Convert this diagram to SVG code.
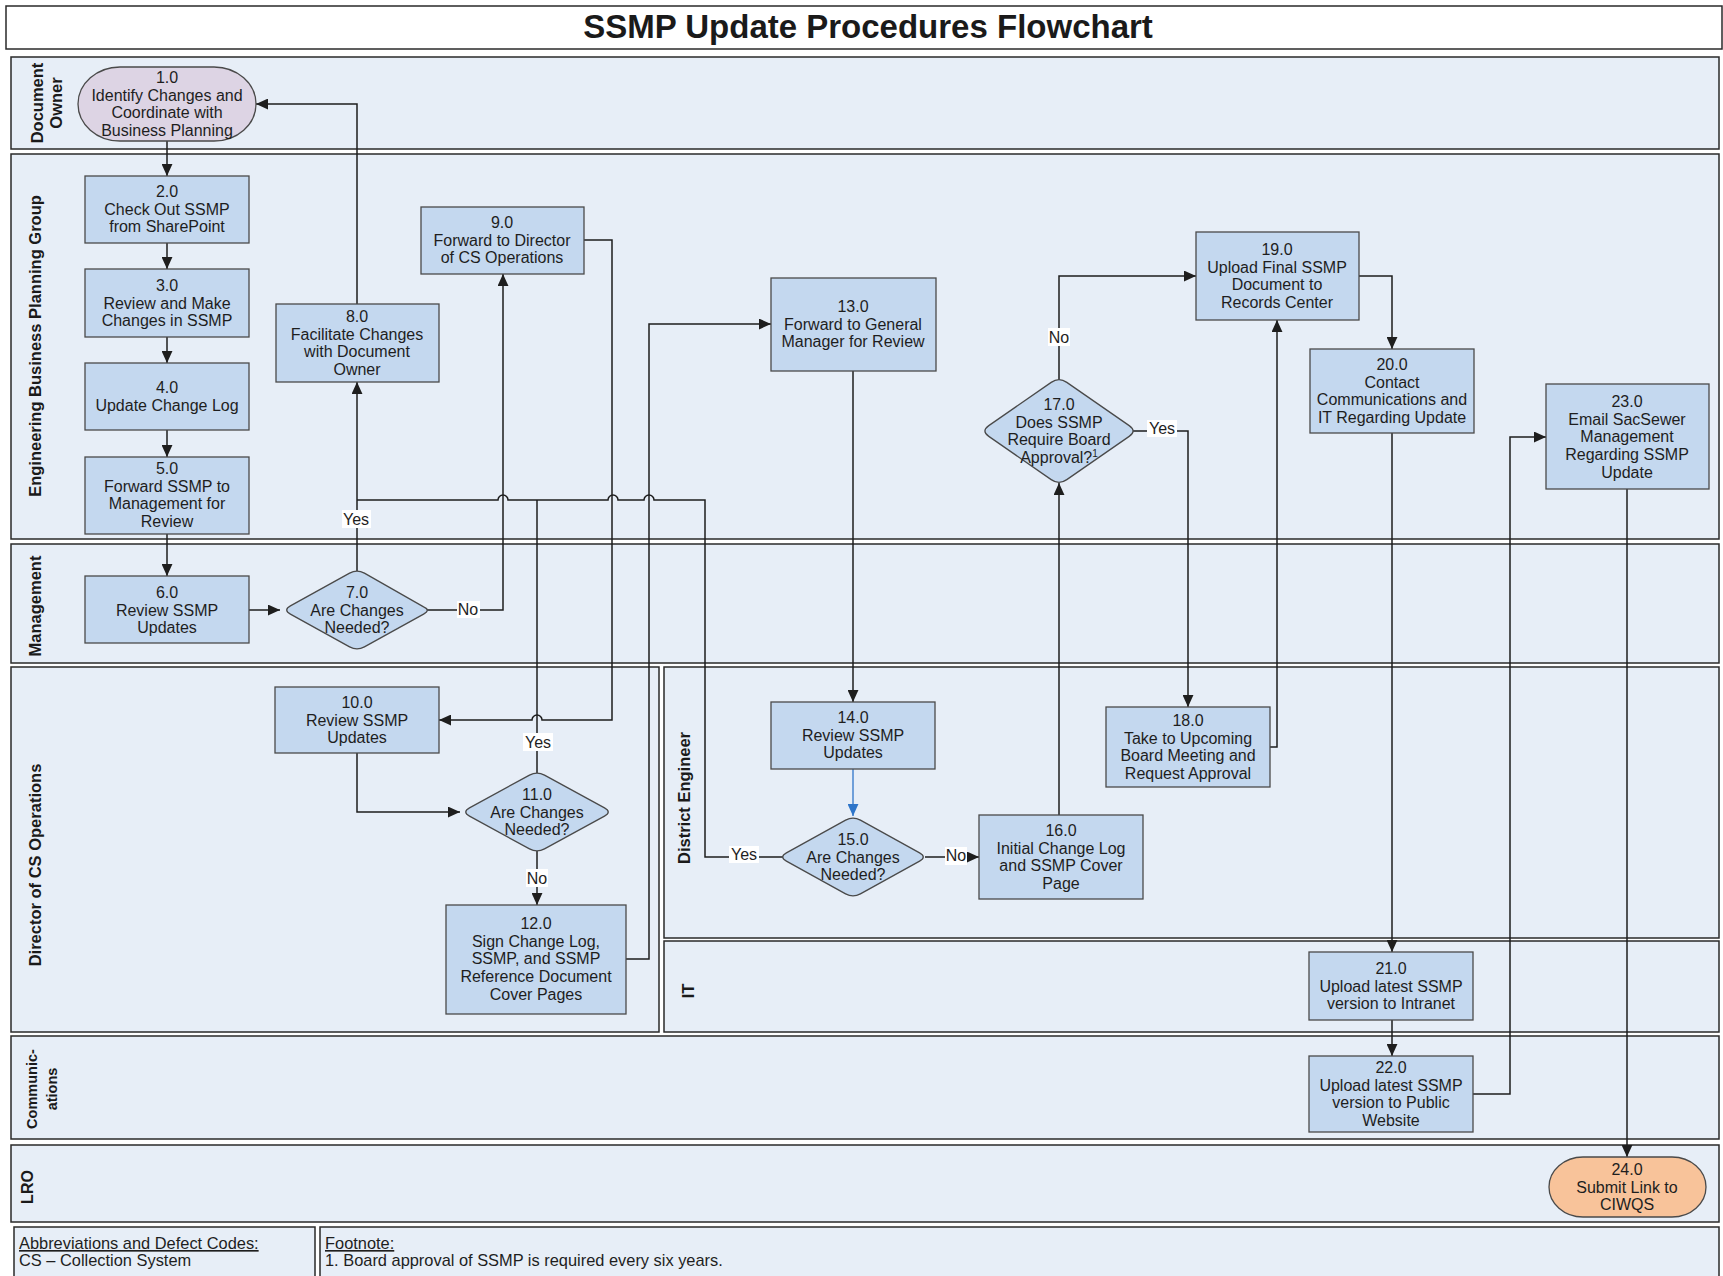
<svg xmlns="http://www.w3.org/2000/svg" width="1723" height="1276" viewBox="0 0 1723 1276">
<style>
.lane{fill:#E7EEF7;stroke:#2a2a2a;stroke-width:1.5}
.lt{font-family:"Liberation Sans",Arial,sans-serif;font-weight:bold;font-size:16.5px;fill:#1a1a1a}
.box{fill:#C4D8EF;stroke:#4a4a4a;stroke-width:1.3}
.t{font-family:"Liberation Sans",Arial,sans-serif;font-size:16px;fill:#1e1e1e;text-anchor:middle}
.c{fill:none;stroke:#1e1e1e;stroke-width:1.5}
.lbl{font-family:"Liberation Sans",Arial,sans-serif;font-size:16px;fill:#1e1e1e;text-anchor:middle}
.lb{fill:#ffffff}
.ft{font-family:"Liberation Sans",Arial,sans-serif;font-size:16.4px;fill:#1e1e1e}
</style>
<defs>
<marker id="ah" markerUnits="userSpaceOnUse" markerWidth="12" markerHeight="11" refX="11" refY="5" orient="auto" viewBox="0 0 11 10"><path d="M0,0 L11,5 L0,10 z" fill="#1e1e1e"/></marker>
<marker id="ahb" markerUnits="userSpaceOnUse" markerWidth="12" markerHeight="11" refX="11" refY="5" orient="auto" viewBox="0 0 11 10"><path d="M0,0 L11,5 L0,10 z" fill="#2E75C9"/></marker>
</defs>
<rect width="1723" height="1276" fill="#ffffff"/>
<g id="title">
<rect x="6" y="6" width="1716" height="43" fill="#ffffff" stroke="#2a2a2a" stroke-width="1.5"/>
<text x="868" y="38" font-family="Liberation Sans, Arial, sans-serif" font-weight="bold" font-size="33" text-anchor="middle" fill="#1a1a1a">SSMP Update Procedures Flowchart</text>
</g>
<g id="lanes">
<rect class="lane" x="11" y="57" width="1708" height="92"/>
<rect class="lane" x="11" y="154" width="1708" height="385"/>
<rect class="lane" x="11" y="544" width="1708" height="119"/>
<rect class="lane" x="11" y="667" width="648" height="365"/>
<rect class="lane" x="664" y="667" width="1055" height="271"/>
<rect class="lane" x="664" y="941" width="1055" height="91"/>
<rect class="lane" x="11" y="1036" width="1708" height="103"/>
<rect class="lane" x="11" y="1145" width="1708" height="77"/>
<rect class="lane" x="14" y="1227" width="301" height="60"/>
<rect class="lane" x="320" y="1227" width="1399" height="60"/>
<text class="lt" transform="translate(43,103) rotate(-90)" text-anchor="middle"><tspan x="0" y="0">Document</tspan><tspan x="0" y="19">Owner</tspan></text>
<text class="lt" transform="translate(41,346) rotate(-90)" text-anchor="middle">Engineering Business Planning Group</text>
<text class="lt" transform="translate(41,606) rotate(-90)" text-anchor="middle">Management</text>
<text class="lt" transform="translate(41,865) rotate(-90)" text-anchor="middle">Director of CS Operations</text>
<text class="lt" transform="translate(690,798) rotate(-90)" text-anchor="middle">District Engineer</text>
<text class="lt" transform="translate(694,991) rotate(-90)" text-anchor="middle">IT</text>
<text class="lt" transform="translate(37,1089) rotate(-90)" text-anchor="middle" style="font-size:14.5px"><tspan x="0" y="0">Communic-</tspan><tspan x="0" y="20">ations</tspan></text>
<text class="lt" transform="translate(33,1187) rotate(-90)" text-anchor="middle" style="font-size:16px">LRO</text>
<text class="ft" x="19" y="1249" text-decoration="underline">Abbreviations and Defect Codes:</text>
<text class="ft" x="19" y="1266">CS – Collection System</text>
<text class="ft" x="325" y="1249" text-decoration="underline">Footnote:</text>
<text class="ft" x="325" y="1266">1. Board approval of SSMP is required every six years.</text>
</g>
<g id="connectors">
<path class="c" marker-end="url(#ah)" d="M167 141 V176"/>
<path class="c" marker-end="url(#ah)" d="M167 243 V269"/>
<path class="c" marker-end="url(#ah)" d="M167 337 V363"/>
<path class="c" marker-end="url(#ah)" d="M167 430 V457"/>
<path class="c" marker-end="url(#ah)" d="M167 534 V576"/>
<path class="c" marker-end="url(#ah)" d="M249 610 H280"/>
<path class="c" marker-end="url(#ah)" d="M357 571 V382"/>
<path class="c" marker-end="url(#ah)" d="M427 610 H503 V274"/>
<path class="c" marker-end="url(#ah)" d="M357 304 V104 H256"/>
<path class="c" marker-end="url(#ah)" d="M584 240 H612 V720 H542 a5 5 0 0 0 -10 0 H439"/>
<path class="c" marker-end="url(#ah)" d="M357 753 V812 H460"/>
<path class="c" marker-end="url(#ah)" d="M537 851 V905"/>
<path class="c" marker-end="url(#ah)" d="M626 959 H649 V324 H771"/>
<path class="c" marker-end="url(#ah)" d="M853 371 V702"/>
<path fill="none" stroke="#2E75C9" stroke-width="1.3" marker-end="url(#ahb)" d="M853 765 V816"/>
<path class="c" d="M783 857 H705 V500 H654 a5 5 0 0 0 -10 0 H618 a5 5 0 0 0 -10 0 H508 a5 5 0 0 0 -10 0 H357"/>
<path class="c" d="M537 773 V500"/>
<path class="c" marker-end="url(#ah)" d="M925 857 H979"/>
<path class="c" marker-end="url(#ah)" d="M1059 815 V483"/>
<path class="c" marker-end="url(#ah)" d="M1059 380 V276 H1196"/>
<path class="c" marker-end="url(#ah)" d="M1133 431 H1188 V707"/>
<path class="c" marker-end="url(#ah)" d="M1270 747 H1277 V320"/>
<path class="c" marker-end="url(#ah)" d="M1359 276 H1392 V349"/>
<path class="c" marker-end="url(#ah)" d="M1392 433 V952"/>
<path class="c" marker-end="url(#ah)" d="M1392 1020 V1056"/>
<path class="c" marker-end="url(#ah)" d="M1473 1094 H1510 V437 H1546"/>
<path class="c" marker-end="url(#ah)" d="M1627 489 V1157"/>
<rect class="lb" x="342" y="510" width="29" height="18"/><text class="lbl" x="356" y="525">Yes</text>
<rect class="lb" x="457" y="601" width="23" height="17"/><text class="lbl" x="468" y="615">No</text>
<rect class="lb" x="523" y="733" width="30" height="18"/><text class="lbl" x="538" y="748">Yes</text>
<rect class="lb" x="526" y="869" width="22" height="18"/><text class="lbl" x="537" y="884">No</text>
<rect class="lb" x="729" y="846" width="30" height="17"/><text class="lbl" x="744" y="860">Yes</text>
<rect class="lb" x="945" y="847" width="22" height="18"/><text class="lbl" x="956" y="861">No</text>
<rect class="lb" x="1048" y="328" width="22" height="18"/><text class="lbl" x="1059" y="343">No</text>
<rect class="lb" x="1147" y="420" width="30" height="17"/><text class="lbl" x="1162" y="434">Yes</text>
</g>
<g id="n1"><rect x="78" y="67" width="178" height="74" rx="42" ry="37" fill="#DDD4E4" stroke="#4a4a4a" stroke-width="1.3"/>
<text class="t" x="167" y="83">1.0<tspan x="167" dy="17.7">Identify Changes and</tspan><tspan x="167" dy="17.7">Coordinate with</tspan><tspan x="167" dy="17.7">Business Planning</tspan></text></g>
<g id="n2"><rect class="box" x="85" y="176" width="164" height="67"/>
<text class="t" x="167" y="197">2.0<tspan x="167" dy="17.7">Check Out SSMP</tspan><tspan x="167" dy="17.7">from SharePoint</tspan></text></g>
<g id="n3"><rect class="box" x="85" y="269" width="164" height="68"/>
<text class="t" x="167" y="291">3.0<tspan x="167" dy="17.7">Review and Make</tspan><tspan x="167" dy="17.7">Changes in SSMP</tspan></text></g>
<g id="n4"><rect class="box" x="85" y="363" width="164" height="67"/>
<text class="t" x="167" y="393">4.0<tspan x="167" dy="17.7">Update Change Log</tspan></text></g>
<g id="n5"><rect class="box" x="85" y="457" width="164" height="77"/>
<text class="t" x="167" y="474">5.0<tspan x="167" dy="17.7">Forward SSMP to</tspan><tspan x="167" dy="17.7">Management for</tspan><tspan x="167" dy="17.7">Review</tspan></text></g>
<g id="n6"><rect class="box" x="85" y="576" width="164" height="67"/>
<text class="t" x="167" y="598">6.0<tspan x="167" dy="17.7">Review SSMP</tspan><tspan x="167" dy="17.7">Updates</tspan></text></g>
<g id="n7"><path class="box" d="M364.4 573.1 L423.6 606.9 Q431 610 423.6 614.1 L364.4 646.9 Q357 651 349.6 646.9 L290.4 614.1 Q283 610 290.4 605.9 L349.6 573.1 Q357 569 364.4 573.1 Z"/>
<text class="t" x="357" y="598">7.0<tspan x="357" dy="17.7">Are Changes</tspan><tspan x="357" dy="17.7">Needed?</tspan></text></g>
<g id="n8"><rect class="box" x="276" y="304" width="163" height="78"/>
<text class="t" x="357" y="322">8.0<tspan x="357" dy="17.7">Facilitate Changes</tspan><tspan x="357" dy="17.7">with Document</tspan><tspan x="357" dy="17.7">Owner</tspan></text></g>
<g id="n9"><rect class="box" x="421" y="207" width="163" height="67"/>
<text class="t" x="502" y="228">9.0<tspan x="502" dy="17.7">Forward to Director</tspan><tspan x="502" dy="17.7">of CS Operations</tspan></text></g>
<g id="n10"><rect class="box" x="275" y="687" width="164" height="66"/>
<text class="t" x="357" y="708">10.0<tspan x="357" dy="17.7">Review SSMP</tspan><tspan x="357" dy="17.7">Updates</tspan></text></g>
<g id="n11"><path class="box" d="M544.5 775.1 L604.5 807.9 Q612 812 604.5 816.1 L544.5 848.9 Q537 853 529.5 848.9 L469.5 816.1 Q462 812 469.5 807.9 L529.5 775.1 Q537 771 544.5 775.1 Z"/>
<text class="t" x="537" y="800">11.0<tspan x="537" dy="17.7">Are Changes</tspan><tspan x="537" dy="17.7">Needed?</tspan></text></g>
<g id="n12"><rect class="box" x="446" y="905" width="180" height="109"/>
<text class="t" x="536" y="929">12.0<tspan x="536" dy="17.7">Sign Change Log,</tspan><tspan x="536" dy="17.7">SSMP, and SSMP</tspan><tspan x="536" dy="17.7">Reference Document</tspan><tspan x="536" dy="17.7">Cover Pages</tspan></text></g>
<g id="n13"><rect class="box" x="771" y="278" width="165" height="93"/>
<text class="t" x="853" y="312">13.0<tspan x="853" dy="17.7">Forward to General</tspan><tspan x="853" dy="17.7">Manager for Review</tspan></text></g>
<g id="n14"><rect class="box" x="771" y="702" width="164" height="67"/>
<text class="t" x="853" y="723">14.0<tspan x="853" dy="17.7">Review SSMP</tspan><tspan x="853" dy="17.7">Updates</tspan></text></g>
<g id="n15"><path class="box" d="M860.4 820.1 L919.6 852.9 Q927 857 919.6 861.1 L860.4 893.9 Q853 898 845.6 893.9 L786.4 861.1 Q779 857 786.4 852.9 L845.6 820.1 Q853 816 860.4 820.1 Z"/>
<text class="t" x="853" y="845">15.0<tspan x="853" dy="17.7">Are Changes</tspan><tspan x="853" dy="17.7">Needed?</tspan></text></g>
<g id="n16"><rect class="box" x="979" y="815" width="164" height="84"/>
<text class="t" x="1061" y="836">16.0<tspan x="1061" dy="17.7">Initial Change Log</tspan><tspan x="1061" dy="17.7">and SSMP Cover</tspan><tspan x="1061" dy="17.7">Page</tspan></text></g>
<g id="n17"><path class="box" d="M1066.8 382.4 L1129.2 425.6 Q1137 431 1129.2 436.4 L1066.8 479.6 Q1059 485 1051.2 479.6 L988.8 436.4 Q981 431 988.8 425.6 L1051.2 382.4 Q1059 377 1066.8 382.4 Z"/>
<text class="t" x="1059" y="410">17.0<tspan x="1059" dy="17.7">Does SSMP</tspan><tspan x="1059" dy="17.7">Require Board</tspan><tspan x="1059" dy="17.7">Approval?<tspan font-size="10" dy="-6">1</tspan></tspan></text></g>
<g id="n18"><rect class="box" x="1106" y="707" width="164" height="80"/>
<text class="t" x="1188" y="726">18.0<tspan x="1188" dy="17.7">Take to Upcoming</tspan><tspan x="1188" dy="17.7">Board Meeting and</tspan><tspan x="1188" dy="17.7">Request Approval</tspan></text></g>
<g id="n19"><rect class="box" x="1196" y="232" width="163" height="88"/>
<text class="t" x="1277" y="255">19.0<tspan x="1277" dy="17.7">Upload Final SSMP</tspan><tspan x="1277" dy="17.7">Document to</tspan><tspan x="1277" dy="17.7">Records Center</tspan></text></g>
<g id="n20"><rect class="box" x="1310" y="349" width="164" height="84"/>
<text class="t" x="1392" y="370">20.0<tspan x="1392" dy="17.7">Contact</tspan><tspan x="1392" dy="17.7">Communications and</tspan><tspan x="1392" dy="17.7">IT Regarding Update</tspan></text></g>
<g id="n21"><rect class="box" x="1309" y="952" width="164" height="68"/>
<text class="t" x="1391" y="974">21.0<tspan x="1391" dy="17.7">Upload latest SSMP</tspan><tspan x="1391" dy="17.7">version to Intranet</tspan></text></g>
<g id="n22"><rect class="box" x="1309" y="1056" width="164" height="76"/>
<text class="t" x="1391" y="1073">22.0<tspan x="1391" dy="17.7">Upload latest SSMP</tspan><tspan x="1391" dy="17.7">version to Public</tspan><tspan x="1391" dy="17.7">Website</tspan></text></g>
<g id="n23"><rect class="box" x="1546" y="384" width="163" height="105"/>
<text class="t" x="1627" y="407">23.0<tspan x="1627" dy="17.7">Email SacSewer</tspan><tspan x="1627" dy="17.7">Management</tspan><tspan x="1627" dy="17.7">Regarding SSMP</tspan><tspan x="1627" dy="17.7">Update</tspan></text></g>
<g id="n24"><rect x="1549" y="1157" width="157" height="60" rx="34" ry="30" fill="#F8C39A" stroke="#4a4a4a" stroke-width="1.3"/>
<text class="t" x="1627" y="1175">24.0<tspan x="1627" dy="17.7">Submit Link to</tspan><tspan x="1627" dy="17.7">CIWQS</tspan></text></g>
</svg>
